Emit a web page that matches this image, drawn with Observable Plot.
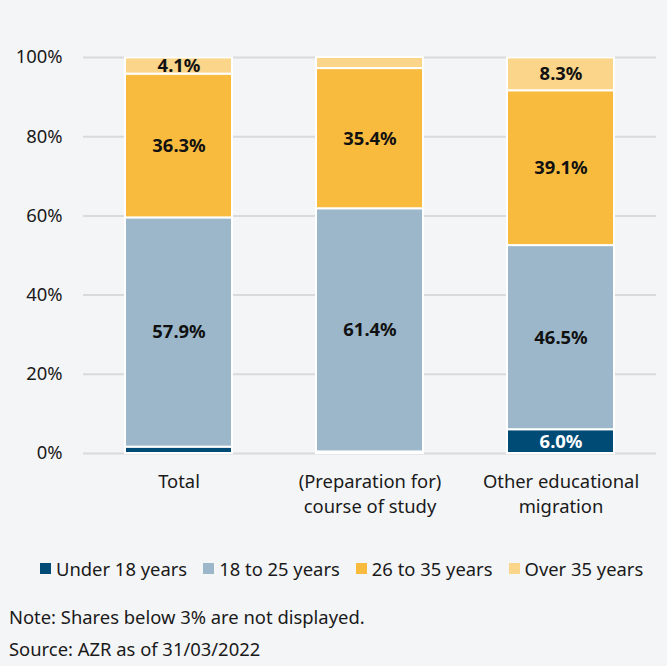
<!DOCTYPE html>
<html>
<head>
<meta charset="utf-8">
<script src="https://cdn.jsdelivr.net/npm/d3@7"></script>
<script src="https://cdn.jsdelivr.net/npm/@observablehq/plot@0.6"></script>
<style>
  html, body { margin: 0; padding: 0; background: #f4f5f7; }
  body { width: 667px; height: 666px; font-family: "Noto Sans", sans-serif; color: #1a1a1a; font-size: 18.4px; line-height: 25px; }
  #chart svg { display: block; background: #f4f5f7; }
  .legend { display: flex; justify-content: flex-start; gap: 16px; margin-top: 24px; padding-left: 40px; height: 25px; }
  .legend span.item { display: flex; align-items: center; white-space: nowrap; }
  .legend span.sw { width: 11px; height: 11px; display: inline-block; margin-right: 5px; }
  .note { margin-left: 9px; margin-top: 23px; }
  .source { margin-left: 9px; margin-top: 7px; }
</style>
</head>
<body>
<div id="chart"></div>
<div class="legend" id="legend"></div>
<div class="note">Note: Shares below 3% are not displayed.</div>
<div class="source">Source: AZR as of 31/03/2022</div>
<script>
const categories = ["Total", "(Preparation for)\ncourse of study", "Other educational\nmigration"];
const ageGroups = ["Under 18 years", "18 to 25 years", "26 to 35 years", "Over 35 years"];
const under18 = [1.6, 0.4, 6.0];
const age18to25 = [57.9, 61.4, 46.5];
const age26to35 = [36.3, 35.4, 39.1];
const over35 = [4.1, 2.8, 8.3];
const colors = ["#004b76", "#9bb7c9", "#f8bb3e", "#fad58a"];
const yTicks = [0, 20, 40, 60, 80, 100];

const series = [under18, age18to25, age26to35, over35];
const data = [];
categories.forEach((c, i) => {
  ageGroups.forEach((g, j) => {
    data.push({category: c, age: g, value: series[j][i]});
  });
});

const plot = Plot.plot({
  width: 667,
  height: 532,
  marginTop: 57,
  marginBottom: 79,
  marginLeft: 83,
  marginRight: 11,
  style: {fontFamily: "Noto Sans, sans-serif", fontSize: "18.4px", color: "#1a1a1a", background: "#f4f5f7"},
  x: {domain: categories, paddingInner: 0.44, paddingOuter: 0.22, label: null},
  y: {domain: [0, 100], label: null},
  color: {domain: ageGroups, range: colors},
  marks: [
    Plot.ruleY(yTicks, {stroke: "#d9dadc", strokeWidth: 2}),
    Plot.axisY({ticks: yTicks, tickFormat: d => d + "%", tickSize: 0, tickPadding: 21, fontSize: 18.4, fill: "#1a1a1a"}),
    Plot.axisX({tickSize: 0, tickPadding: 16, fontSize: 18.4, lineHeight: 1.38, fill: "#1a1a1a"}),
    Plot.barY(data, Plot.stackY({x: "category", y: "value", fill: "age", order: ageGroups, stroke: "white", strokeWidth: 2})),
    Plot.text(data, Plot.stackY({
      x: "category", y: "value", order: ageGroups,
      text: d => d.value >= 3 ? d.value.toFixed(1) + "%" : "",
      fill: d => d.age === "Under 18 years" ? "white" : "#111",
      fontWeight: "bold", fontSize: 18.4
    }))
  ]
});
document.getElementById("chart").appendChild(plot);

const legend = document.getElementById("legend");
ageGroups.forEach((g, i) => {
  const item = document.createElement("span");
  item.className = "item";
  const sw = document.createElement("span");
  sw.className = "sw";
  sw.style.background = colors[i];
  item.appendChild(sw);
  item.appendChild(document.createTextNode(g));
  legend.appendChild(item);
});
</script>
</body>
</html>
